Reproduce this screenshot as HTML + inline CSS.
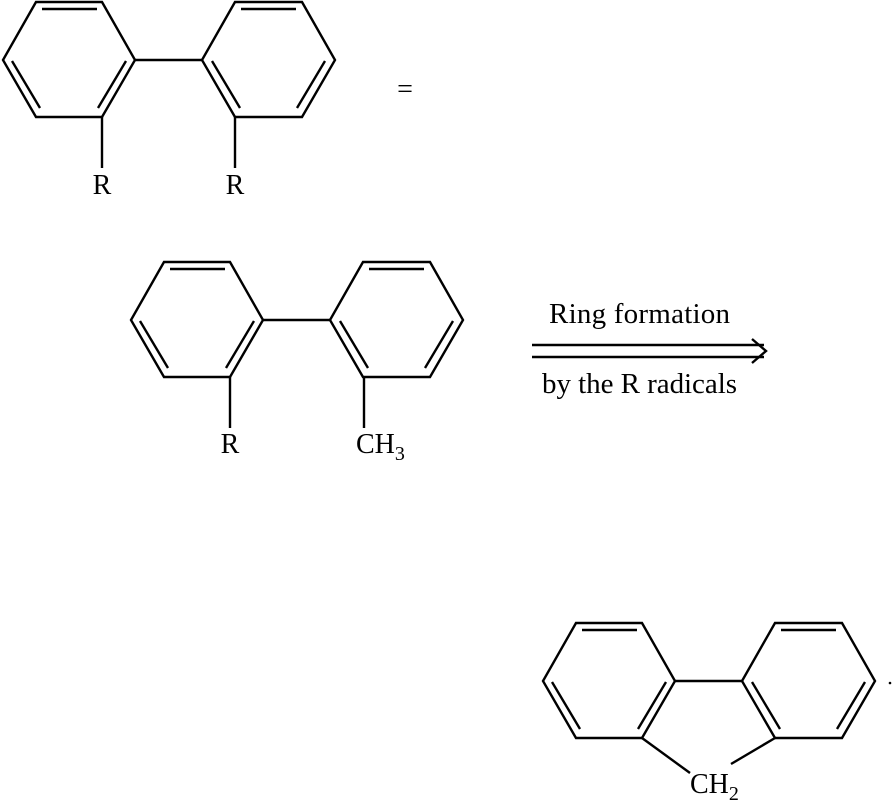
<!DOCTYPE html>
<html><head><style>
html,body{margin:0;padding:0;background:#fff;}
svg{display:block;}
text{font-family:"Liberation Serif",serif;fill:#000;}
</style></head><body>
<svg width="896" height="801" viewBox="0 0 896 801" xmlns="http://www.w3.org/2000/svg">
<defs>
<g id="bp" stroke="#000" stroke-width="2.4" fill="none">
<polygon points="36,2 102,2 135,60 102,117 36,117 3,60"/>
<polygon points="235,2 302,2 335,60 302,117 235,117 202,60"/>
<line x1="135" y1="60" x2="202" y2="60"/>
<line x1="42" y1="9" x2="97" y2="9"/>
<line x1="12" y1="61" x2="40" y2="108"/>
<line x1="126" y1="61" x2="98" y2="108"/>
<line x1="241" y1="9" x2="296" y2="9"/>
<line x1="325" y1="61" x2="297" y2="108"/>
<line x1="212" y1="61" x2="240" y2="108"/>
</g>
</defs>
<use href="#bp"/>
<line x1="102" y1="117" x2="102" y2="168" stroke="#000" stroke-width="2.4"/>
<line x1="235" y1="117" x2="235" y2="168" stroke="#000" stroke-width="2.4"/>
<text x="102" y="194" font-size="28" text-anchor="middle">R</text>
<text x="235" y="194" font-size="28" text-anchor="middle">R</text>
<text x="405" y="98" font-size="28" text-anchor="middle">=</text>

<use href="#bp" transform="translate(128,260)"/>
<line x1="230" y1="377" x2="230" y2="428" stroke="#000" stroke-width="2.4"/>
<line x1="364" y1="377" x2="364" y2="428" stroke="#000" stroke-width="2.4"/>
<text x="230" y="453" font-size="28" text-anchor="middle">R</text>
<text x="356" y="453" font-size="28">CH<tspan font-size="20" dy="7">3</tspan></text>

<text x="549" y="323" font-size="29" textLength="181">Ring formation</text>
<line x1="532" y1="345" x2="764" y2="345" stroke="#000" stroke-width="2.4"/>
<line x1="532" y1="357" x2="764" y2="357" stroke="#000" stroke-width="2.4"/>
<polyline points="752,339 766,351 752,363" fill="none" stroke="#000" stroke-width="2.4"/>
<text x="542" y="393" font-size="29" textLength="195">by the R radicals</text>

<use href="#bp" transform="translate(540,621)"/>
<line x1="642" y1="738" x2="690" y2="773" stroke="#000" stroke-width="2.4"/>
<line x1="775" y1="738" x2="731" y2="764" stroke="#000" stroke-width="2.4"/>
<text x="690" y="793" font-size="28">CH<tspan font-size="20" dy="7">2</tspan></text>
<circle cx="890" cy="683" r="1.3" fill="#000"/>
</svg>
</body></html>
